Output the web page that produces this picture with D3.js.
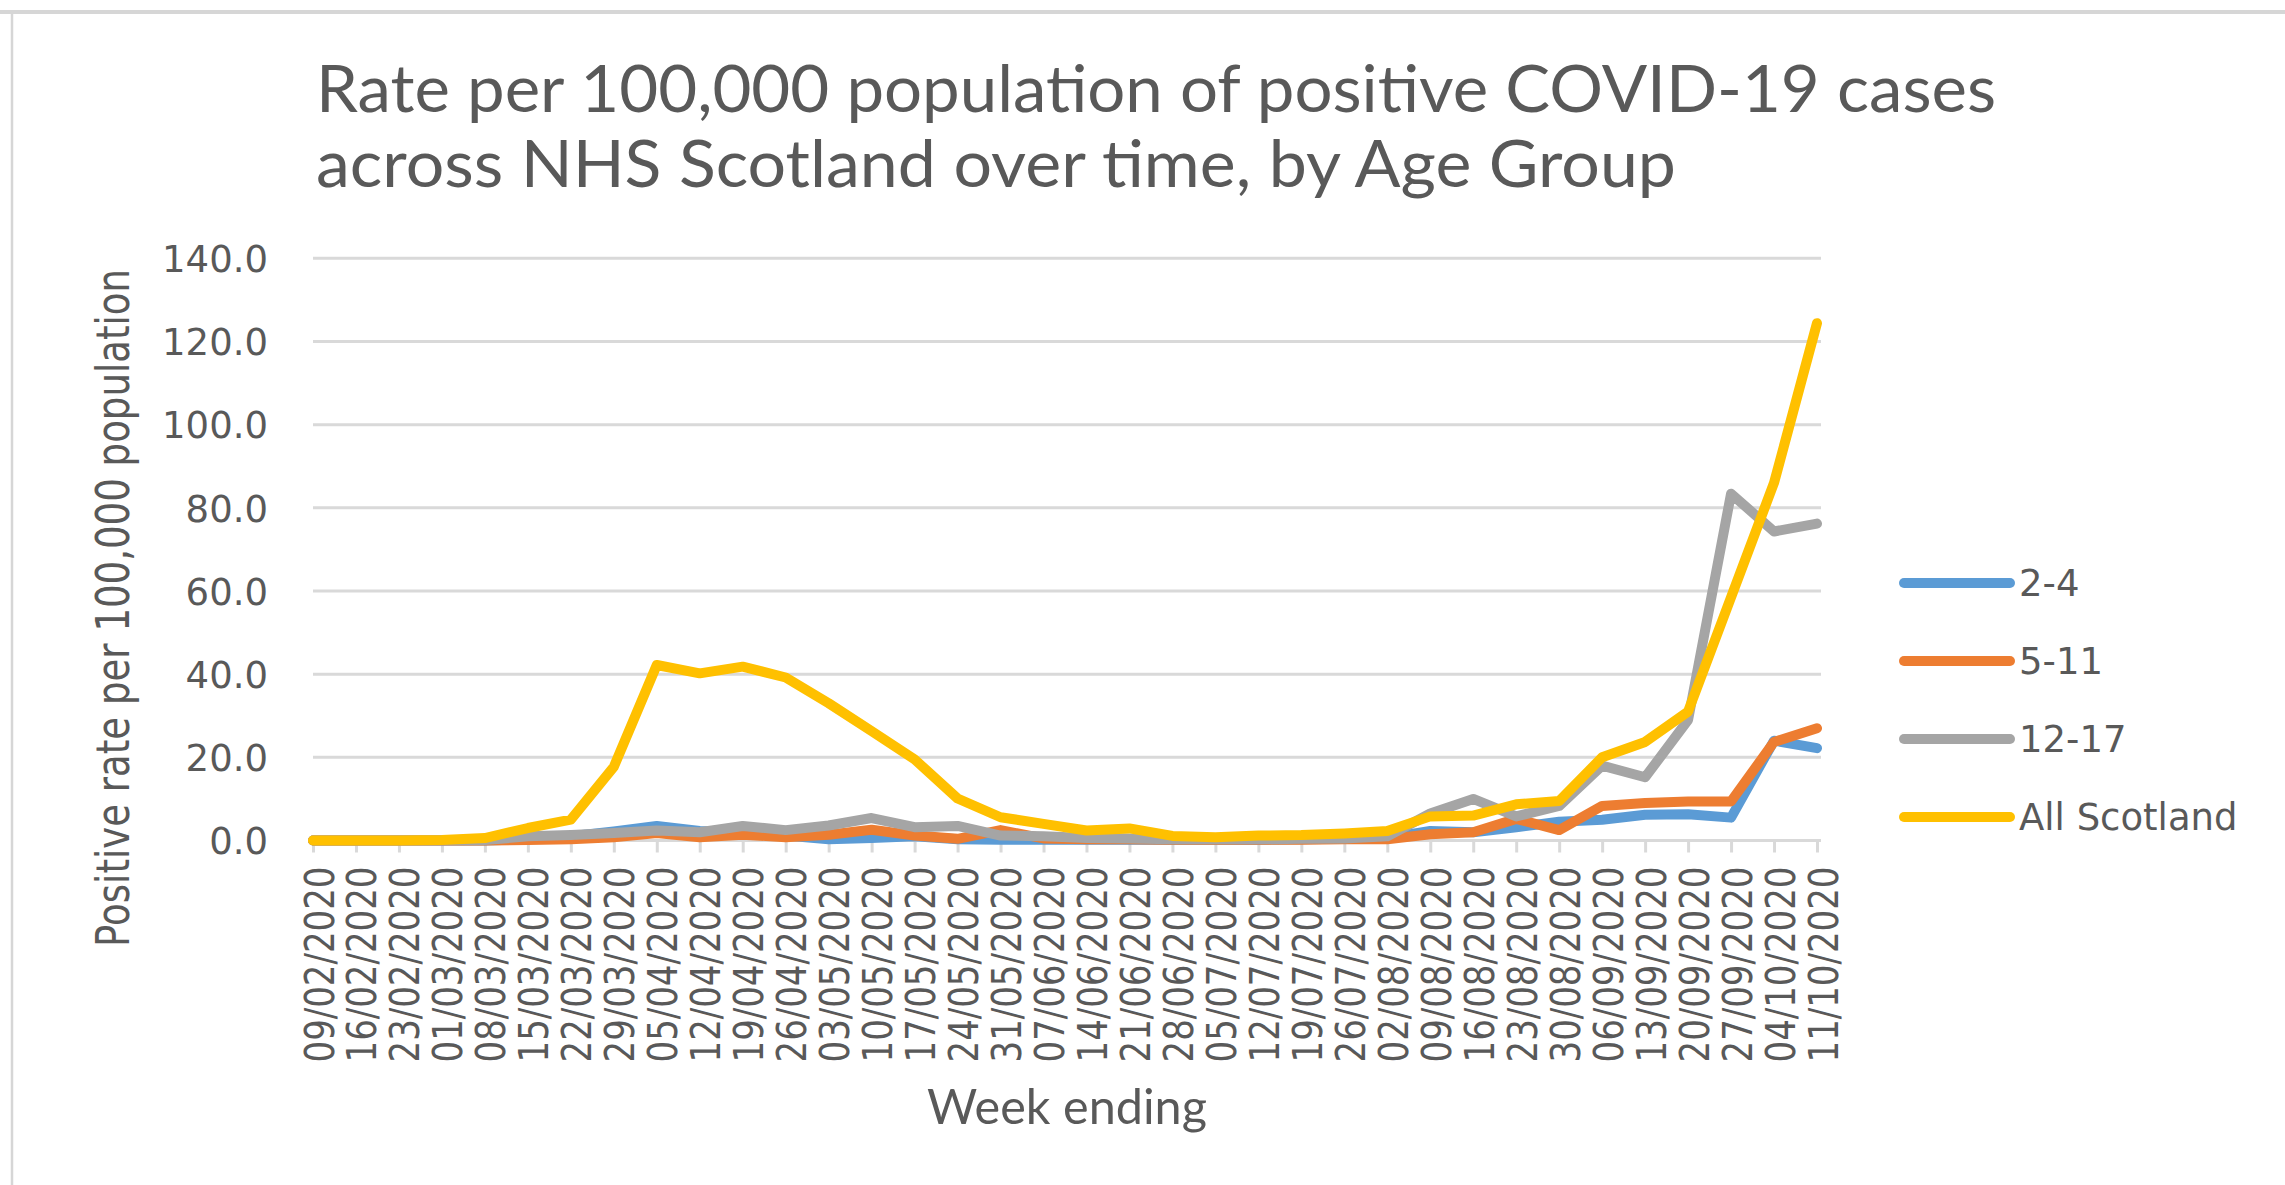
<!DOCTYPE html>
<html>
<head>
<meta charset="utf-8">
<script src="https://cdn.jsdelivr.net/npm/d3@7"></script>
<style>
  html, body { margin: 0; padding: 0; background: #ffffff; }
  svg { display: block; }
</style>
</head>
<body>
<svg id="chart" width="2285" height="1185"></svg>
<script>
// Week-ending dates (x categories)
const weeks = [
  "09/02/2020","16/02/2020","23/02/2020","01/03/2020","08/03/2020","15/03/2020",
  "22/03/2020","29/03/2020","05/04/2020","12/04/2020","19/04/2020","26/04/2020",
  "03/05/2020","10/05/2020","17/05/2020","24/05/2020","31/05/2020","07/06/2020",
  "14/06/2020","21/06/2020","28/06/2020","05/07/2020","12/07/2020","19/07/2020",
  "26/07/2020","02/08/2020","09/08/2020","16/08/2020","23/08/2020","30/08/2020",
  "06/09/2020","13/09/2020","20/09/2020","27/09/2020","04/10/2020","11/10/2020"
];

// Positive rate per 100,000 population, by age group
const age2to4 = [
  0, 0, 0, 0, 0, 0.3, 1.0, 2.2, 3.5, 2.3, 1.8, 1.2,
  0.3, 0.6, 1.0, 0.3, 0.2, 0.2, 0.2, 0.2, 0.2, 0.2, 0.2, 0.3,
  0.4, 0.6, 2.3, 2.0, 3.2, 4.5, 5.0, 6.2, 6.3, 5.5, 24.0, 22.2
];
const age5to11 = [
  0, 0, 0, 0, 0, 0.1, 0.3, 0.8, 1.8, 0.8, 1.4, 0.8,
  1.4, 2.6, 1.2, 0.4, 2.5, 0.5, 0.3, 0.3, 0.2, 0.2, 0.2, 0.2,
  0.3, 0.3, 1.5, 2.0, 5.2, 2.5, 8.3, 9.0, 9.4, 9.4, 23.7, 27.0
];
const age12to17 = [
  0, 0, 0, 0, 0.1, 1.0, 1.3, 1.8, 2.4, 2.0, 3.5, 2.5,
  3.6, 5.4, 3.2, 3.5, 1.2, 1.0, 0.6, 0.5, 0.3, 0.3, 0.3, 0.4,
  0.5, 1.0, 6.5, 10.0, 5.8, 8.3, 18.0, 15.2, 29.0, 83.4, 74.3, 76.2
];
const allScotland = [
  0, 0, 0, 0.1, 0.6, 3.0, 5.0, 17.7, 42.2, 40.2, 41.8, 39.2,
  33.0, 26.3, 19.5, 10.1, 5.6, 4.0, 2.4, 2.9, 1.1, 0.8, 1.2, 1.3,
  1.7, 2.3, 5.8, 6.0, 8.7, 9.5, 20.0, 23.7, 31.0, 58.5, 86.0, 124.4
];

const seriesNames = ["2-4", "5-11", "12-17", "All Scotland"];
const seriesValues = [age2to4, age5to11, age12to17, allScotland];
const seriesColors = ["#5b9bd5", "#ed7d31", "#a5a5a5", "#ffc000"];
const yTicks = [0, 20, 40, 60, 80, 100, 120, 140];

const titleLines = [
  "Rate per 100,000 population of positive COVID-19 cases",
  "across NHS Scotland over time, by Age Group"
];

const svg = d3.select("#chart");
const textGrey = "#595959";
const gridGrey = "#d9d9d9";

// Outer chart frame
svg.append("line").attr("x1", 0).attr("x2", 2285).attr("y1", 12).attr("y2", 12)
  .attr("stroke", "#d6d6d6").attr("stroke-width", 4);
svg.append("line").attr("x1", 12).attr("x2", 12).attr("y1", 12).attr("y2", 1185)
  .attr("stroke", "#d6d6d6").attr("stroke-width", 2.5);

// Scales
const x = d3.scalePoint().domain(weeks).range([313, 1817]);
const y = d3.scaleLinear().domain([0, 140]).range([840.5, 258.3]);

// Title
const title = svg.append("text")
  .attr("font-family", "Lato, 'Open Sans', sans-serif")
  .attr("font-size", 65)
  .attr("fill", textGrey);
title.append("tspan").attr("x", 316).attr("y", 112)
  .attr("textLength", 1680).attr("lengthAdjust", "spacingAndGlyphs")
  .text(titleLines[0]);
title.append("tspan").attr("x", 316).attr("y", 187)
  .attr("textLength", 1360).attr("lengthAdjust", "spacingAndGlyphs")
  .text(titleLines[1]);

// Horizontal gridlines
svg.append("g").selectAll("line")
  .data(yTicks)
  .join("line")
  .attr("x1", 313).attr("x2", 1821)
  .attr("y1", d => y(d)).attr("y2", d => y(d))
  .attr("stroke", gridGrey).attr("stroke-width", 3);

// Y axis labels
const yAxis = svg.append("g")
  .attr("transform", "translate(313,0)")
  .call(d3.axisLeft(y).tickValues(yTicks).tickFormat(d3.format(".1f")).tickSize(0).tickPadding(45));
yAxis.select(".domain").remove();
yAxis.selectAll("text")
  .attr("font-family", "'DejaVu Sans', Verdana, sans-serif")
  .attr("font-size", 37)
  .attr("fill", textGrey)
  .attr("dy", "0.36em");

// X axis: tick marks and rotated date labels
const xAxis = svg.append("g")
  .attr("transform", "translate(0,840.5)")
  .call(d3.axisBottom(x).tickSize(12).tickPadding(0));
xAxis.select(".domain").remove();
xAxis.selectAll(".tick line").attr("stroke", gridGrey).attr("stroke-width", 3);
xAxis.selectAll(".tick text")
  .attr("font-family", "'DejaVu Sans', Verdana, sans-serif")
  .attr("font-size", 40)
  .attr("fill", textGrey)
  .attr("text-anchor", "end")
  .attr("textLength", 196)
  .attr("lengthAdjust", "spacingAndGlyphs")
  .attr("transform", "translate(20,26) rotate(-90)")
  .attr("x", 0).attr("y", 0).attr("dy", 0);

// Axis titles
svg.append("text")
  .attr("x", 1067).attr("y", 1124)
  .attr("text-anchor", "middle")
  .attr("font-family", "Lato, 'Open Sans', sans-serif")
  .attr("font-size", 48)
  .attr("fill", textGrey)
  .attr("textLength", 280).attr("lengthAdjust", "spacingAndGlyphs")
  .text("Week ending");

svg.append("text")
  .attr("transform", "translate(129,608) rotate(-90)")
  .attr("text-anchor", "middle")
  .attr("font-family", "'DejaVu Sans', Verdana, sans-serif")
  .attr("font-size", 46)
  .attr("fill", textGrey)
  .attr("textLength", 678).attr("lengthAdjust", "spacingAndGlyphs")
  .text("Positive rate per 100,000 population");

// Series lines
const line = d3.line()
  .x((d, i) => x(weeks[i]))
  .y(d => y(d));

svg.append("g").selectAll("path")
  .data(seriesValues)
  .join("path")
  .attr("d", d => line(d))
  .attr("fill", "none")
  .attr("stroke", (d, i) => seriesColors[i])
  .attr("stroke-width", 10)
  .attr("stroke-linejoin", "round")
  .attr("stroke-linecap", "round");

// Legend
const legend = svg.append("g").selectAll("g")
  .data(seriesNames)
  .join("g")
  .attr("transform", (d, i) => `translate(0,${583 + i * 78})`);
legend.append("line")
  .attr("x1", 1904).attr("x2", 2010)
  .attr("stroke", (d, i) => seriesColors[i])
  .attr("stroke-width", 10)
  .attr("stroke-linecap", "round");
legend.append("text")
  .attr("x", 2019).attr("dy", "0.36em")
  .attr("font-family", "'DejaVu Sans', Verdana, sans-serif")
  .attr("font-size", 37)
  .attr("fill", textGrey)
  .text(d => d);
</script>
</body>
</html>
